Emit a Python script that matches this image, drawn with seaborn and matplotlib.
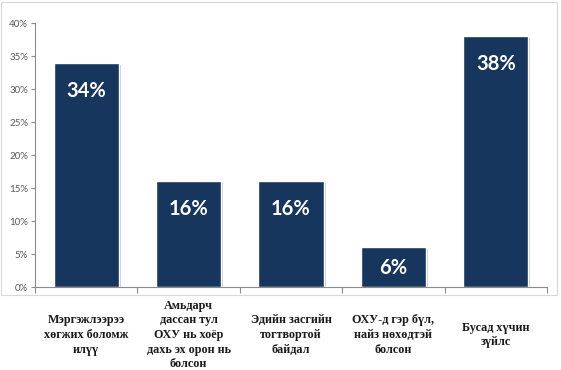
import seaborn as sns
import matplotlib.pyplot as plt
import matplotlib.patheffects as pe
from matplotlib.patches import Rectangle
from matplotlib.ticker import PercentFormatter
import pandas as pd

categories = ["Мэргэжлээрээ\nхөгжих боломж\nилүү",
              "Амьдарч\nдассан тул\nОХУ нь хоёр\nдахь эх орон нь\nболсон",
              "Эдийн засгийн\nтогтвортой\nбайдал",
              "ОХУ-д гэр бүл,\nнайз нөхөдтэй\nболсон",
              "Бусад хүчин\nзүйлс"]
shares = [0.34, 0.16, 0.16, 0.06, 0.38]
value_labels = ["34%", "16%", "16%", "6%", "38%"]
y_ticks = [0, 0.05, 0.10, 0.15, 0.20, 0.25, 0.30, 0.35, 0.40]

df = pd.DataFrame({"cat": categories, "share": shares})

sns.set_style("white")
fig = plt.figure(figsize=(5.61, 3.70), dpi=100)
ax = fig.add_axes([0.0624, 0.2243, 0.9126, 0.7135])

sns.barplot(data=df, x="cat", y="share", color="#17365d", width=0.635,
            saturation=1, ax=ax)
for p in ax.patches:
    p.set_path_effects([pe.SimplePatchShadow(offset=(1.5, -1.5), shadow_rgbFace="#999999", alpha=0.5),
                        pe.Normal()])

# value labels inside bars
for p, lab, v in zip(ax.patches, value_labels, shares):
    h_px = v / 0.40 * 264
    off = -min(28, h_px / 2 + 1)
    ax.annotate(lab, (p.get_x() + p.get_width() / 2, v), xytext=(0, off * 0.72),
                textcoords="offset points", ha="center", va="center",
                color="white", fontsize=14.5, fontweight="bold",
                family=["Lato", "DejaVu Sans"])

ax.set_ylim(0, 0.40)
ax.set_xlim(-0.5, 4.5)
ax.set_yticks(y_ticks)
ax.yaxis.set_major_formatter(PercentFormatter(1.0, decimals=0))
ax.set_xlabel("")
ax.set_ylabel("")

for s in ["top", "right"]:
    ax.spines[s].set_visible(False)
for s in ["left", "bottom"]:
    ax.spines[s].set_color("#8c8c8c")
    ax.spines[s].set_linewidth(0.8)

ax.tick_params(axis="y", which="major", left=True, length=3, width=0.8, color="#8c8c8c",
               labelsize=7, labelcolor="#595959", pad=2)
for t in ax.get_yticklabels():
    t.set_family(["Lato", "DejaVu Sans"])

ax.set_xticks([-0.5, 0.5, 1.5, 2.5, 3.5, 4.5], minor=True)
ax.tick_params(axis="x", which="minor", bottom=True, length=4, width=0.8, color="#8c8c8c")
ax.tick_params(axis="x", which="major", bottom=False, pad=31)
ax.set_xticks(range(len(categories)))
ax.set_xticklabels(categories, fontsize=8.7, fontweight="bold",
                   family=["Liberation Serif", "DejaVu Serif"], va="center",
                   linespacing=1.3, color="#1a1a1a")

# chart area border
fig.patches.append(Rectangle((1 / 561, 1 - 295 / 370), 556 / 561, 293 / 370,
                             transform=fig.transFigure, fill=False,
                             edgecolor="#d9d9d9", linewidth=0.8))

fig.savefig("out.png", dpi=100)
